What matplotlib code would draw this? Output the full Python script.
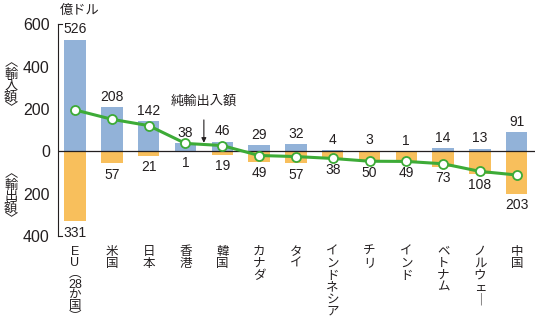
import matplotlib
matplotlib.use("Agg")
import matplotlib.pyplot as plt
import numpy as np

plt.rcParams['font.family'] = ['Liberation Sans', 'Noto Sans CJK JP', 'DejaVu Sans']

categories = ["EU（28か国）", "米国", "日本", "香港", "韓国", "カナダ", "タイ",
              "インドネシア", "チリ", "インド", "ベトナム", "ノルウェー", "中国"]
cat_labels = ["E\nU\n︵\n28\nか\n国\n︶", "米\n国", "日\n本", "香\n港", "韓\n国",
              "カ\nナ\nダ", "タ\nイ", "イ\nン\nド\nネ\nシ\nア", "チ\nリ",
              "イ\nン\nド", "ベ\nト\nナ\nム", "ノ\nル\nウ\nェ\n｜", "中\n国"]
imports = [526, 208, 142, 38, 46, 29, 32, 4, 3, 1, 14, 13, 91]
exports = [331, 57, 21, 1, 19, 49, 57, 38, 50, 49, 73, 108, 203]
net = [i - e for i, e in zip(imports, exports)]
yticks = [600, 400, 200, 0, -200, -400]

BLUE = "#92b2d8"
ORANGE = "#f8bf5c"
GREEN = "#3dab37"
TXT = "#231f20"

fig = plt.figure(figsize=(5.38, 3.26), dpi=100)
ax = fig.add_axes([0.108, 0.276, 0.886, 0.65])
x = np.arange(len(categories))
w = 0.58
ax.bar(x, imports, width=w, color=BLUE, zorder=2)
ax.bar(x, [-e for e in exports], width=w, color=ORANGE, zorder=2)
ax.axhline(0, color=TXT, lw=0.9, zorder=3)
ax.plot(x, net, color=GREEN, lw=2.2, marker="o", ms=6.5, mfc="white",
        mec=GREEN, mew=1.3, zorder=4)

for xi, v in zip(x, imports):
    ax.annotate(str(v), (xi, v), xytext=(0, 2.5), textcoords="offset points",
                ha="center", va="bottom", fontsize=10, color=TXT)
for xi, v in zip(x, exports):
    ax.annotate(str(v), (xi, -v), xytext=(0, -3), textcoords="offset points",
                ha="center", va="top", fontsize=10, color=TXT)

ax.set_xlim(-0.46, len(categories) - 0.51)
ax.set_ylim(-400, 600)
ax.set_yticks(yticks)
ax.set_yticklabels([str(abs(t)) for t in yticks], fontsize=11.5, color=TXT)
ax.tick_params(axis="y", length=0, pad=6)
ax.set_xticks(x)
ax.set_xticklabels(cat_labels, fontsize=9, color=TXT, linespacing=1.0, va="top")
ax.get_xticklabels()[0].set_linespacing(0.88)
ax.tick_params(axis="x", length=0, pad=7)
for s in ["top", "right", "bottom"]:
    ax.spines[s].set_visible(False)
ax.spines["left"].set_color(TXT)
ax.spines["left"].set_linewidth(0.8)
ax.axhline(600, xmin=0, xmax=0.008, color=TXT, lw=0.8, clip_on=False)
ax.axhline(-400, xmin=0, xmax=0.008, color=TXT, lw=0.8, clip_on=False)

fig.text(0.112, 0.968, "億ドル", fontsize=9.5, color=TXT, ha="left", va="center")
fig.text(0.02, 0.735, "︿\n輸\n入\n額\n﹀", fontsize=9.5, color=TXT, ha="center",
         va="center", linespacing=0.95)
fig.text(0.02, 0.395, "︿\n輸\n出\n額\n﹀", fontsize=9.5, color=TXT, ha="center",
         va="center", linespacing=0.95)

ax.annotate("純輸出入額", xy=(3.5, 40), xytext=(3.5, 236), ha="center", va="center",
            fontsize=9.5, color=TXT,
            arrowprops=dict(arrowstyle="-|>", color=TXT, lw=0.8, mutation_scale=7,
                            shrinkA=7, shrinkB=0))

fig.savefig("out.png", dpi=100)
